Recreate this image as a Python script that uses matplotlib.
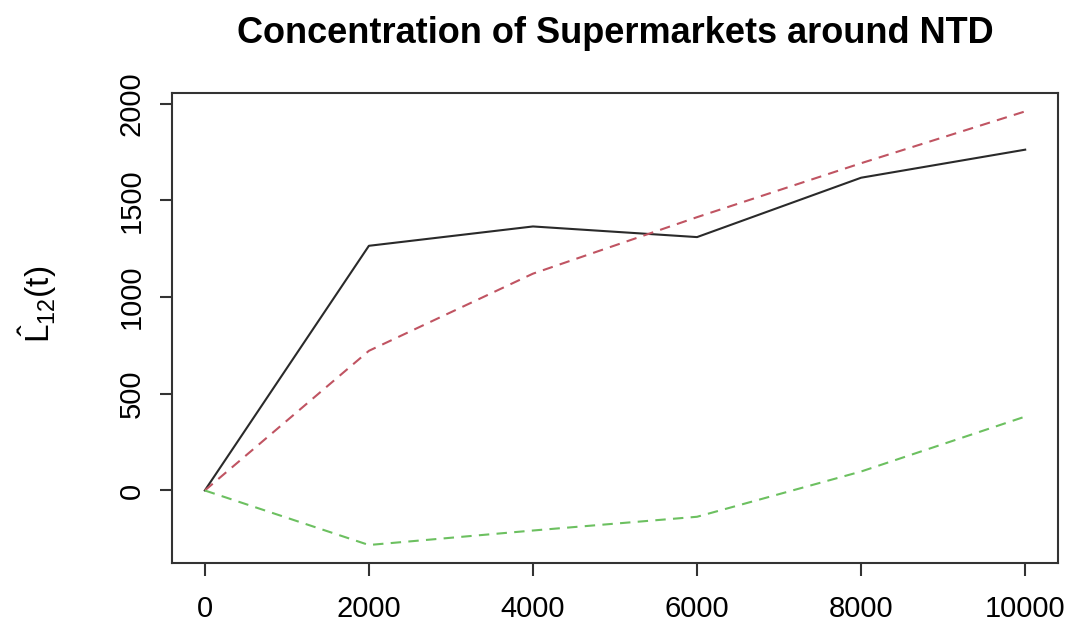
import matplotlib.pyplot as plt

plt.rcParams['font.family'] = ['Liberation Sans', 'DejaVu Sans']
plt.rcParams['mathtext.fontset'] = 'custom'
plt.rcParams['mathtext.rm'] = 'Liberation Sans'
plt.rcParams['mathtext.it'] = 'Liberation Sans'

# distances and estimated cross L-function values
dist = [0, 2000, 4000, 6000, 8000, 10000]
l_obs = [0, 1265, 1365, 1310, 1617, 1762]
l_hi = [0, 722, 1121, 1413, 1692, 1960]
l_lo = [0, -282, -207, -136, 98, 382]

x_ticks = [0, 2000, 4000, 6000, 8000, 10000]
y_ticks = [0, 500, 1000, 1500, 2000]

fig = plt.figure(figsize=(10.73, 6.38), dpi=100)
ax = fig.add_axes([172 / 1073, 1 - 563 / 638, (1058 - 172) / 1073, (563 - 93) / 638])

ax.plot(dist, l_obs, color='#2a2a2a', lw=1.5)
ax.plot(dist, l_hi, color='#C05462', lw=1.5, dashes=(5, 3.5))
ax.plot(dist, l_lo, color='#6CC060', lw=1.5, dashes=(5, 3.5))

ax.set_xlim(-400, 10400)
ax.set_ylim(-375, 2055)
ax.set_xticks(x_ticks)
ax.set_yticks(y_ticks)
ax.set_yticklabels([str(v) for v in y_ticks], rotation=90, va='center')
ax.tick_params(labelsize=21, length=9, width=1.5, color='#333333', pad=14)
ax.tick_params(axis='y', pad=10)
for s in ax.spines.values():
    s.set_linewidth(1.5)
    s.set_color('#333333')

ax.set_ylabel(r'$\hat{\mathrm{L}}_{12}(\mathrm{t})$', fontsize=24)
ax.yaxis.set_label_coords(-0.128, 0.55)
ax.set_title('Concentration of Supermarkets around NTD', fontsize=26,
             fontweight='bold', pad=36)

fig.savefig('out.png', dpi=100)
